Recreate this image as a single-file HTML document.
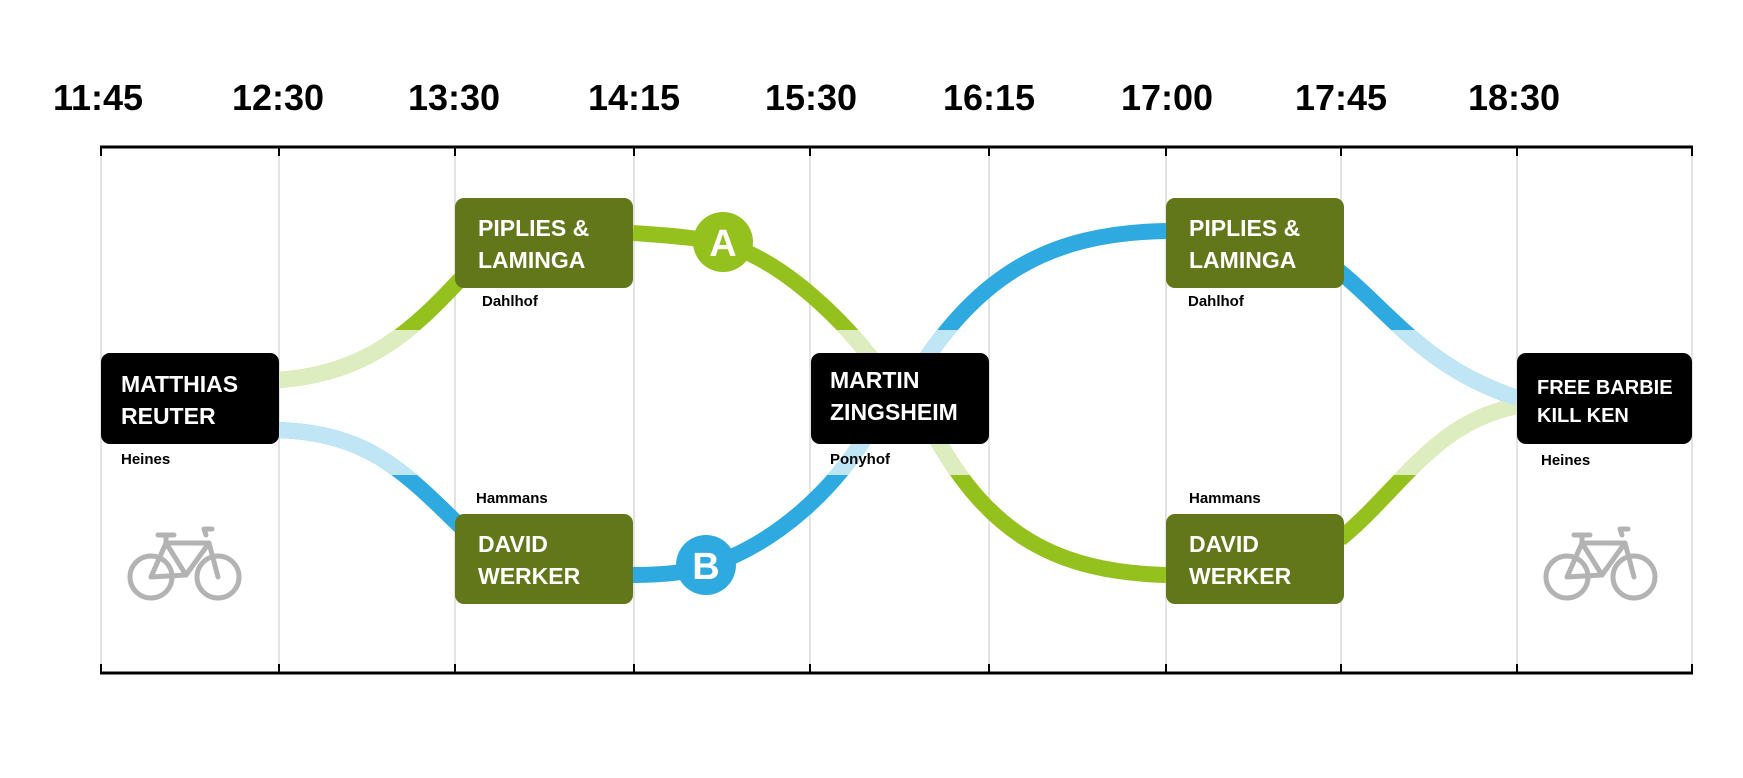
<!DOCTYPE html>
<html><head><meta charset="utf-8"><style>
html,body{margin:0;padding:0;background:#fff;}
svg{display:block}
.t{font-family:"Liberation Sans",sans-serif;font-weight:bold;font-size:36px;fill:#000;text-anchor:middle}
.b{font-family:"Liberation Sans",sans-serif;font-weight:bold;font-size:23px;fill:#fff}
.s{font-family:"Liberation Sans",sans-serif;font-weight:bold;font-size:15px;fill:#000}
</style></head><body>
<svg width="1743" height="778" viewBox="0 0 1743 778">
<defs>
<clipPath id="band"><rect x="0" y="330" width="1743" height="145"/></clipPath>
<g id="bike" fill="none" stroke="#b3b3b3" stroke-width="5" stroke-linecap="round" stroke-linejoin="round">
<circle cx="-33" cy="12" r="21"/><circle cx="34" cy="12" r="21"/>
<path d="M-33 12 L-18 -22 L25 -22 L2 10 L-33 12 M-18 -22 L2 10 M25 -22 L34 12 M22 -30 L20 -36 L28 -36 M-26 -30 L-10 -30 M-18 -22 L-18 -30"/>
</g>
</defs>
<g class="t">
<text x="98" y="110">11:45</text><text x="278" y="110">12:30</text><text x="454" y="110">13:30</text>
<text x="634" y="110">14:15</text><text x="811" y="110">15:30</text><text x="989" y="110">16:15</text>
<text x="1167" y="110">17:00</text><text x="1341" y="110">17:45</text><text x="1514" y="110">18:30</text>
</g>
<g stroke="#e3e3e3" stroke-width="2">
<line x1="101" y1="147" x2="101" y2="673"/><line x1="279" y1="147" x2="279" y2="673"/><line x1="455" y1="147" x2="455" y2="673"/>
<line x1="634" y1="147" x2="634" y2="673"/><line x1="810" y1="147" x2="810" y2="673"/><line x1="989" y1="147" x2="989" y2="673"/>
<line x1="1166" y1="147" x2="1166" y2="673"/><line x1="1341" y1="147" x2="1341" y2="673"/><line x1="1517" y1="147" x2="1517" y2="673"/>
<line x1="1692" y1="147" x2="1692" y2="673"/>
</g>
<g stroke="#000" stroke-width="3">
<line x1="100" y1="147" x2="1693" y2="147"/><line x1="100" y1="673" x2="1693" y2="673"/>
</g>
<g stroke="#000" stroke-width="2">
<path d="M101 147v9M279 147v9M455 147v9M634 147v9M810 147v9M989 147v9M1166 147v9M1341 147v9M1517 147v9M1692 147v9"/>
<path d="M101 673v-9M279 673v-9M455 673v-9M634 673v-9M810 673v-9M989 673v-9M1166 673v-9M1341 673v-9M1517 673v-9M1692 673v-9"/>
</g>
<g fill="none" stroke-width="16">
<g id="gr" stroke="#95c11f">
<path d="M279 380 C367 373 411 333 467 272"/>
<path d="M633 233 C678 236 711 239 734 247 C789 267 845 322 878 367"/>
<path d="M934 434 C989 534 1056 572 1166 575"/>
<path d="M1340 539 C1401 489 1434 422 1517 406"/>
</g>
<g id="bl" stroke="#2eaae1">
<path d="M279 430 C367 434 400 467 465 531"/>
<path d="M633 575 C667 575 689 572 711 565 C778 542 834 489 867 434"/>
<path d="M917 372 C978 278 1045 233 1166 231"/>
<path d="M1334 267 C1390 311 1423 367 1517 398"/>
</g>
<g clip-path="url(#band)">
<g stroke="#deedbf">
<path d="M279 380 C367 373 411 333 467 272"/>
<path d="M633 233 C678 236 711 239 734 247 C789 267 845 322 878 367"/>
<path d="M934 434 C989 534 1056 572 1166 575"/>
<path d="M1340 539 C1401 489 1434 422 1517 406"/>
</g>
<g stroke="#c0e5f5">
<path d="M279 430 C367 434 400 467 465 531"/>
<path d="M633 575 C667 575 689 572 711 565 C778 542 834 489 867 434"/>
<path d="M917 372 C978 278 1045 233 1166 231"/>
<path d="M1334 267 C1390 311 1423 367 1517 398"/>
</g>
</g>
</g>
<circle cx="723" cy="242" r="30" fill="#95c11f"/>
<text x="723" y="256" class="b" style="font-size:38px;text-anchor:middle">A</text>
<circle cx="706" cy="565" r="30" fill="#2eaae1"/>
<text x="706" y="579" class="b" style="font-size:38px;text-anchor:middle">B</text>
<rect x="101" y="353" width="178" height="91" rx="9" fill="#000"/>
<text class="b" x="121" y="392">MATTHIAS</text><text class="b" x="121" y="424">REUTER</text>
<rect x="455" y="198" width="178" height="90" rx="9" fill="#62761a"/>
<text class="b" x="478" y="236">PIPLIES &amp;</text><text class="b" x="478" y="268">LAMINGA</text>
<rect x="455" y="514" width="178" height="90" rx="9" fill="#62761a"/>
<text class="b" x="478" y="552">DAVID</text><text class="b" x="478" y="584">WERKER</text>
<rect x="811" y="353" width="178" height="91" rx="9" fill="#000"/>
<text class="b" x="830" y="388">MARTIN</text><text class="b" x="830" y="420">ZINGSHEIM</text>
<rect x="1166" y="198" width="178" height="90" rx="9" fill="#62761a"/>
<text class="b" x="1189" y="236">PIPLIES &amp;</text><text class="b" x="1189" y="268">LAMINGA</text>
<rect x="1166" y="514" width="178" height="90" rx="9" fill="#62761a"/>
<text class="b" x="1189" y="552">DAVID</text><text class="b" x="1189" y="584">WERKER</text>
<rect x="1517" y="353" width="175" height="91" rx="9" fill="#000"/>
<text class="b" x="1537" y="394" style="font-size:20px">FREE BARBIE</text><text class="b" x="1537" y="422" style="font-size:20px">KILL KEN</text>
<g class="s">
<text x="121" y="464">Heines</text><text x="482" y="306">Dahlhof</text><text x="476" y="503">Hammans</text>
<text x="830" y="464">Ponyhof</text><text x="1188" y="306">Dahlhof</text><text x="1189" y="503">Hammans</text>
<text x="1541" y="465">Heines</text>
</g>
<use href="#bike" x="184" y="565"/>
<use href="#bike" x="1600" y="565"/>
</svg>
</body></html>
